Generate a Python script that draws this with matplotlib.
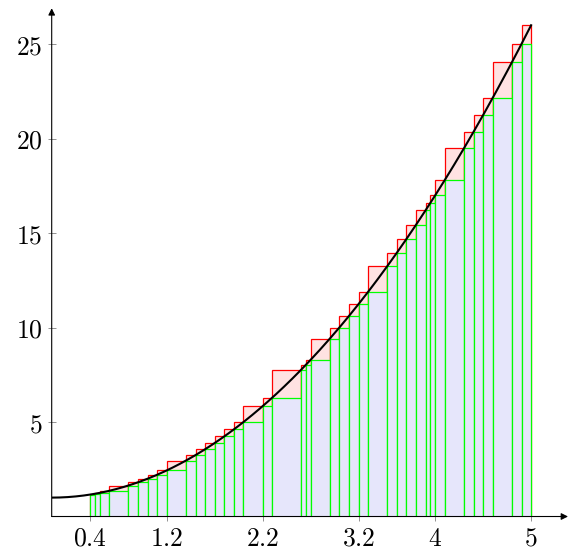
#Upper and lower Riemann sums of f(x) = x^2 + 1 on a non-uniform partition.
import numpy as np
import matplotlib.pyplot as plt

plt.rcParams["mathtext.fontset"] = "cm"

# partition points
partition = [0.4, 0.45, 0.5, 0.6, 0.8, 0.9, 1.0, 1.1, 1.2, 1.4, 1.5, 1.6, 1.7,
             1.8, 1.9, 2.0, 2.2, 2.3, 2.6, 2.65, 2.7, 2.9, 3.0, 3.1, 3.2, 3.3,
             3.5, 3.6, 3.7, 3.8, 3.9, 3.95, 4.0, 4.1, 4.3, 4.4, 4.5, 4.6, 4.8,
             4.9, 5.0]
x_ticks = [0.4, 1.2, 2.2, 3.2, 4, 5]
x_tick_labels = ["0.4", "1.2", "2.2", "3.2", "4", "5"]
y_ticks = [5, 10, 15, 20, 25]


def f(x):
    return x ** 2 + 1


pts = np.array(partition)
left = pts[:-1]
widths = np.diff(pts)
upper = f(pts[1:])
lower = f(left)

fig = plt.figure(figsize=(5.7, 5.51), dpi=100)
ax = fig.add_axes([0.0907, 0.0626, 0.9058, 0.9224])

# upper sum first, lower sum drawn over it
ax.bar(left, upper, width=widths, align="edge", color="#ffe2e2",
       edgecolor="#ff0000", linewidth=0.9, zorder=2)
ax.bar(left, lower, width=widths, align="edge", color="#e6e6fb",
       edgecolor="#00ff00", linewidth=0.9, zorder=3)

xs = np.linspace(0, 5, 300)
ax.plot(xs, f(xs), color="black", linewidth=1.5, zorder=5)

ax.set_xlim(0, 5.385)
ax.set_ylim(0, 26.9)

for side in ["top", "right", "left", "bottom"]:
    ax.spines[side].set_visible(False)
ax.annotate("", xy=(1, 0), xytext=(0, 0), xycoords="axes fraction",
            arrowprops=dict(arrowstyle="-|>", color="black", lw=0.8,
                            mutation_scale=10, shrinkA=0, shrinkB=0), zorder=6)
ax.annotate("", xy=(0, 1), xytext=(0, 0), xycoords="axes fraction",
            arrowprops=dict(arrowstyle="-|>", color="black", lw=0.8,
                            mutation_scale=10, shrinkA=0, shrinkB=0), zorder=6)

ax.set_xticks(x_ticks)
ax.set_xticklabels(["$" + t + "$" for t in x_tick_labels])
ax.set_yticks(y_ticks)
ax.set_yticklabels(["$%d$" % v for v in y_ticks])
ax.tick_params(direction="inout", length=6, width=0.6, color="#808080",
               labelsize=18.5, pad=3.5)

plt.savefig("out.png", dpi=100)
